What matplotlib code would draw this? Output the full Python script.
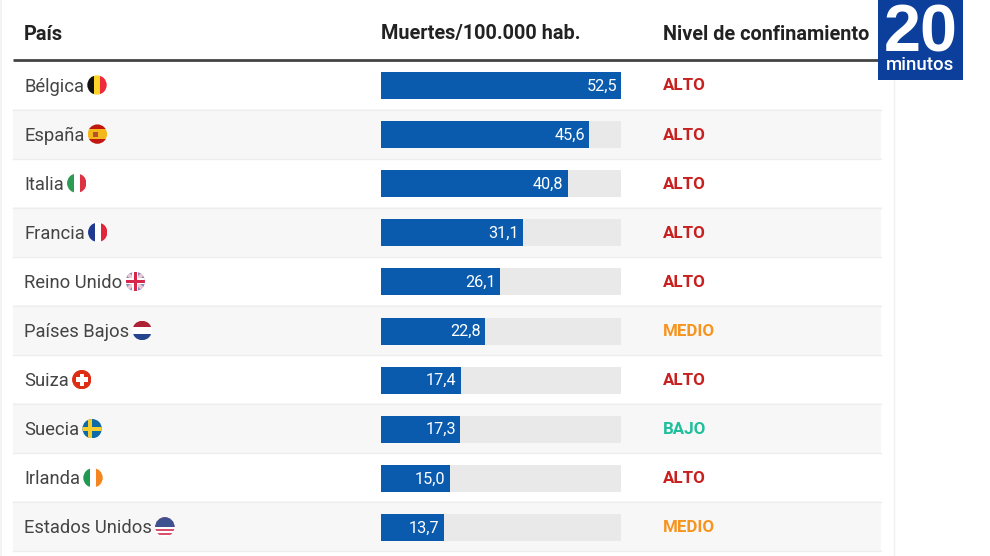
import matplotlib
matplotlib.use('Agg')
import matplotlib.pyplot as plt
from matplotlib.patches import Circle, Rectangle

plt.rcParams['font.family'] = ['Roboto', 'DejaVu Sans']

# datos
paises = ['Bélgica', 'España', 'Italia', 'Francia', 'Reino Unido',
          'Países Bajos', 'Suiza', 'Suecia', 'Irlanda', 'Estados Unidos']
muertes = [52.5, 45.6, 40.8, 31.1, 26.1, 22.8, 17.4, 17.3, 15.0, 13.7]
niveles = ['ALTO', 'ALTO', 'ALTO', 'ALTO', 'ALTO',
           'MEDIO', 'ALTO', 'BAJO', 'ALTO', 'MEDIO']
cabeceras = ['País', 'Muertes/100.000 hab.', 'Nivel de confinamiento']

color_nivel = {'ALTO': '#c8201f', 'MEDIO': '#f7941d', 'BAJO': '#1fbf9c'}
AZUL = '#0a5bad'
W, H = 990, 556
PASO = 49.1
Y0 = 85

fig = plt.figure(figsize=(W / 100, H / 100), dpi=100)
ax = fig.add_axes([0, 0, 1, 1])
ax.set_xlim(0, W)
ax.set_ylim(H, 0)
ax.axis('off')


def fila_y(i):
    return Y0 + PASO * i


def banda(c, x0, y0, x1, y1, color, z=4):
    p = Rectangle((x0, y0), x1 - x0, y1 - y0, color=color, lw=0, zorder=z)
    ax.add_patch(p)
    p.set_clip_path(c)


def bandera(nombre, cx, cy, r=9.7):
    c = Circle((cx, cy), r, transform=ax.transData, fc='white', lw=0, zorder=3)
    ax.add_patch(c)

    def vert(cols):
        w = 2 * r / len(cols)
        for k, col in enumerate(cols):
            banda(c, cx - r + k * w, cy - r, cx - r + (k + 1) * w, cy + r, col)

    def horiz(cols, pesos=None):
        pesos = pesos or [1] * len(cols)
        y = cy - r
        for col, p in zip(cols, pesos):
            h = 2 * r * p / sum(pesos)
            banda(c, cx - r, y, cx + r, y + h, col)
            y += h

    if nombre == 'Bélgica':
        vert(['#111111', '#fbd429', '#ee2b3a'])
    elif nombre == 'España':
        horiz(['#c0170f', '#f4b81c', '#c0170f'], [1, 2, 1])
        banda(c, cx - 4, cy - 2.5, cx + 0.5, cy + 2.5, '#b5522a')
    elif nombre == 'Italia':
        vert(['#2e9b55', '#ffffff', '#dc3344'])
    elif nombre == 'Francia':
        vert(['#1f3a8f', '#ffffff', '#e0263a'])
    elif nombre == 'Reino Unido':
        banda(c, cx - r, cy - r, cx + r, cy + r, '#7f8dbd')
        for sgn in (1, -1):
            lin, = ax.plot([cx - r, cx + r], [cy - sgn * r, cy + sgn * r],
                           color='#f0c8d2', lw=2.6, zorder=5)
            lin.set_clip_path(c)
        banda(c, cx - 3, cy - r, cx + 3, cy + r, '#ffffff', 6)
        banda(c, cx - r, cy - 3, cx + r, cy + 3, '#ffffff', 6)
        banda(c, cx - 1.6, cy - r, cx + 1.6, cy + r, '#d8264b', 7)
        banda(c, cx - r, cy - 1.6, cx + r, cy + 1.6, '#d8264b', 7)
    elif nombre == 'Países Bajos':
        horiz(['#ad2333', '#ffffff', '#25468f'])
    elif nombre == 'Suiza':
        banda(c, cx - r, cy - r, cx + r, cy + r, '#dd2e14')
        banda(c, cx - 2.2, cy - 6, cx + 2.2, cy + 6, '#ffffff')
        banda(c, cx - 6, cy - 2.2, cx + 6, cy + 2.2, '#ffffff')
    elif nombre == 'Suecia':
        banda(c, cx - r, cy - r, cx + r, cy + r, '#0f6aa8')
        banda(c, cx - 4.5, cy - r, cx - 0.5, cy + r, '#f4cd2e')
        banda(c, cx - r, cy - 2, cx + r, cy + 2, '#f4cd2e')
    elif nombre == 'Irlanda':
        vert(['#1f9a50', '#ffffff', '#f5851f'])
    elif nombre == 'Estados Unidos':
        horiz(['#d8506a', '#ffffff'] * 5)
        banda(c, cx - r, cy - r, cx + r, cy, '#3f5290')


# fondo: lineas laterales, filas alternas
ax.add_patch(Rectangle((0, 0), 2, H, color='#f3f3f3', lw=0))
ax.plot([894, 894], [0, H], color='#f0f0f0', lw=1)
for i in range(len(paises)):
    y = fila_y(i)
    if i % 2 == 1:
        ax.add_patch(Rectangle((13, y - 25.5), 868, 51, color='#f7f7f8', lw=0, zorder=0))
    ax.plot([13, 881], [y + 24.5, y + 24.5], color='#eeeeee', lw=1, zorder=1)
ax.plot([13, 881], [60, 60], color='#444444', lw=2, zorder=2, solid_capstyle='butt')

# cabecera
for x, t in zip([24, 381, 663], cabeceras):
    ax.text(x, 34, t, fontsize=14.3, fontweight='bold', color='#222222', va='center')

# paises y banderas
renderer = fig.canvas.get_renderer()
for i, (pais, nivel) in enumerate(zip(paises, niveles)):
    y = fila_y(i)
    t = ax.text(24, y + 1.5, pais, fontsize=13.2, color='#444444', va='center')
    fin = t.get_window_extent(renderer).x1
    bandera(pais, fin + 13, y)
    ax.text(663, y + 1, nivel, fontsize=12.2, fontweight='bold', color=color_nivel[nivel], va='center')

# barras, eje propio en unidades de datos
n = len(paises)
y_arriba = fila_y(0) - 0.5 * PASO + 0.5
y_abajo = fila_y(n - 1) + 0.5 * PASO + 0.5
ax_b = fig.add_axes([381 / W, 1 - y_abajo / H, 240 / W, (y_abajo - y_arriba) / H])
ax_b.set_xlim(0, max(muertes))
ax_b.set_ylim(n - 0.5, -0.5)
ax_b.axis('off')
ax_b.patch.set_alpha(0)
pos = list(range(n))
ax_b.barh(pos, [max(muertes)] * n, height=27 / PASO, color='#e9e9e9', lw=0)
ax_b.barh(pos, muertes, height=27 / PASO, color=AZUL, lw=0)
for i, v in enumerate(muertes):
    ax_b.annotate(f'{v:.1f}'.replace('.', ','), (v, i), xytext=(-2.9, -0.4), textcoords='offset points',
                  ha='right', va='center', color='white', fontsize=11.7)

# logo
ax_l = fig.add_axes([0, 0, 1, 1], zorder=10)
ax_l.set_xlim(0, W)
ax_l.set_ylim(H, 0)
ax_l.axis('off')
ax_l.patch.set_alpha(0)
ax_l.add_patch(Rectangle((878, 0), 85, 79.5, color='#0b3f9b', lw=0))
ax_l.text(920.5, 51.5, '20', fontsize=48, fontweight='bold', color='white', ha='center', va='baseline',
          family='Liberation Sans')
ax_l.text(920, 65.5, 'minutos', fontsize=13.4, fontweight='medium', color='white', ha='center', va='center')

fig.savefig('out.png', dpi=100)
